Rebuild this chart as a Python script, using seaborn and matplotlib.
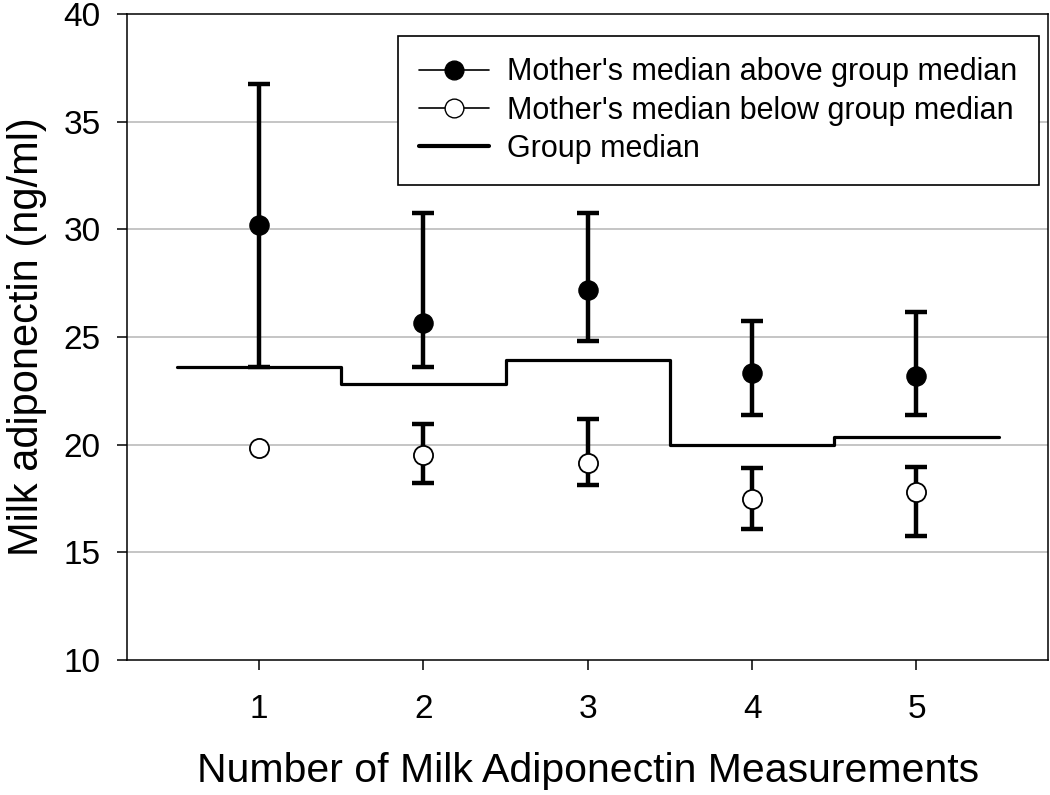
import numpy as np
import pandas as pd
import matplotlib
matplotlib.use('Agg')
import matplotlib.pyplot as plt
import seaborn as sns
from matplotlib.lines import Line2D

# values
measurements = [1, 2, 3, 4, 5]
above_median = [30.2, 25.67, 27.2, 23.35, 23.19]
above_upper = [36.76, 30.77, 30.77, 25.75, 26.18]
above_lower = [23.6, 23.6, 24.8, 21.38, 21.38]
below_median = [19.85, 19.51, 19.16, 17.5, 17.81]
below_upper = [np.nan, 20.95, 21.2, 18.9, 18.97]
below_lower = [np.nan, 18.23, 18.12, 16.08, 15.74]
group_median = [23.6, 22.84, 23.95, 20.0, 20.35]
y_ticks = [10, 15, 20, 25, 30, 35, 40]

sns.set_style('white')
plt.rcParams['font.family'] = ['Liberation Sans', 'DejaVu Sans']
plt.rcParams['text.color'] = 'black'
plt.rcParams['axes.labelcolor'] = 'black'
plt.rcParams['xtick.color'] = 'black'
plt.rcParams['ytick.color'] = 'black'

df = pd.DataFrame({'n': measurements, 'above': above_median, 'below': below_median,
                   'a_up': above_upper, 'a_lo': above_lower,
                   'b_up': below_upper, 'b_lo': below_lower})

fig = plt.figure(figsize=(10.5, 7.95), dpi=100)
ax = fig.add_axes([0.1214, 0.1698, 0.8767, 0.8126])

for y in y_ticks[1:-1]:
    ax.axhline(y, color='#c0c0c0', lw=1.3, zorder=0)

# group median as step line spanning each category
edges = np.array(measurements, dtype=float) - 0.5
edges = np.append(edges, measurements[-1] + 0.5)
sns.lineplot(x=edges, y=group_median + [group_median[-1]], drawstyle='steps-post',
             color='black', lw=2.3, ax=ax, zorder=2)

ax.errorbar(df['n'], df['above'], yerr=[df['above'] - df['a_lo'], df['a_up'] - df['above']],
            fmt='none', ecolor='black', elinewidth=3.2, capsize=8, capthick=3.2, zorder=3)
ax.errorbar(df['n'], df['below'], yerr=[df['below'] - df['b_lo'], df['b_up'] - df['below']],
            fmt='none', ecolor='black', elinewidth=3.2, capsize=8, capthick=3.2, zorder=3)

sns.scatterplot(data=df, x='n', y='above', color='black', edgecolor='black',
                s=190, linewidth=1, ax=ax, zorder=4)
sns.scatterplot(data=df, x='n', y='below', color='white', edgecolor='black',
                s=190, linewidth=1.3, ax=ax, zorder=4)

ax.set_xlim(0.2, 5.8)
ax.set_ylim(10, 40)
ax.set_xticks(measurements)
ax.set_yticks(y_ticks)
ax.tick_params(axis='both', direction='out', length=7.2, width=1.1, labelsize=24,
               bottom=True, left=True, top=False, right=False)
ax.tick_params(axis='y', pad=12)
ax.tick_params(axis='x', pad=17)
for sp in ax.spines.values():
    sp.set_visible(True)
    sp.set_color('black')
    sp.set_linewidth(1.1)

ax.set_xlabel('Number of Milk Adiponectin Measurements', fontsize=29.5, labelpad=20)
ax.set_ylabel('Milk adiponectin (ng/ml)', fontsize=30, labelpad=12)

handles = [
    Line2D([], [], color='black', lw=1.2, marker='o', markersize=13.5,
           markerfacecolor='black', markeredgecolor='black'),
    Line2D([], [], color='black', lw=1.2, marker='o', markersize=13.5,
           markerfacecolor='white', markeredgecolor='black'),
    Line2D([], [], color='black', lw=3),
]
labels = ["Mother's median above group median", "Mother's median below group median",
          'Group median']
leg = ax.legend(handles, labels, loc='upper right', bbox_to_anchor=(0.990, 0.966),
                borderaxespad=0, fontsize=22, handlelength=2.29, handletextpad=0.59,
                labelspacing=0.27, borderpad=0.7, fancybox=False, framealpha=1,
                edgecolor='black')
leg.get_frame().set_linewidth(1.2)

fig.savefig('out.png', dpi=100)
